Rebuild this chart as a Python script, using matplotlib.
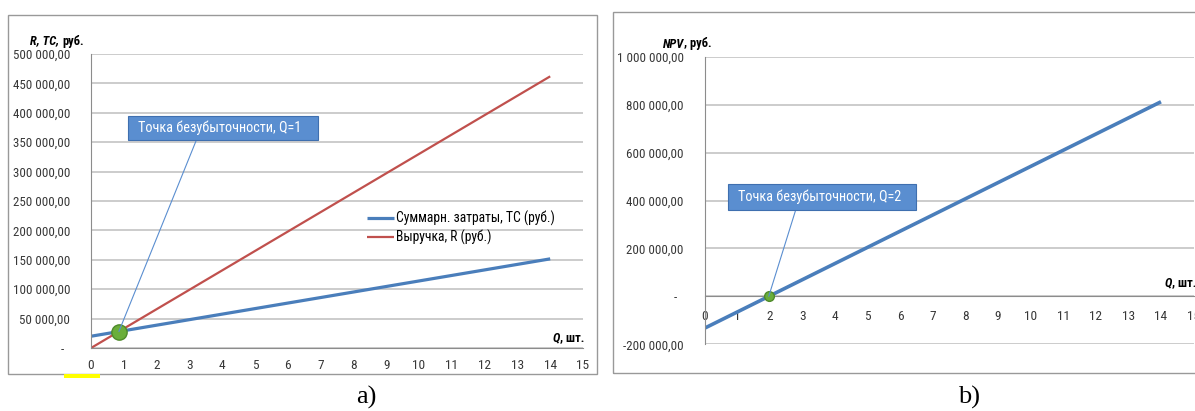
import matplotlib.pyplot as plt
from matplotlib.patches import Rectangle, ConnectionPatch
from matplotlib.ticker import FuncFormatter, MultipleLocator

plt.rcParams['font.family'] = ['Roboto Condensed', 'PT Sans Narrow', 'DejaVu Sans']

W, H = 1195, 411

# Данные
q = list(range(15))
tc = [20000, 29400, 38800, 48200, 57600, 67000, 76400, 85800, 95200,
      104600, 114000, 123400, 132800, 142200, 151600]
r = [0, 33000, 66000, 99000, 132000, 165000, 198000, 231000, 264000,
     297000, 330000, 363000, 396000, 429000, 462000]
npv = [-133000, -65500, 2000, 69500, 137000, 204500, 272000, 339500, 407000,
       474500, 542000, 609500, 677000, 744500, 812000]
be_a = (0.85, 28000)
be_b = (1.97, 0)
x_ticks = list(range(16))

blue = '#4A7EBB'
red = '#C0504D'
grid_c = '#C8C8C8'
axis_c = '#8C8C8C'
box_c = '#5A8ED0'


def rub(v, pos):
    if v == 0:
        return '-  '
    return f'{v:,.2f}'.replace(',', ' ').replace('.', ',')


def px_axes(x0, y0, x1, y1):
    return fig.add_axes([x0 / W, 1 - y1 / H, (x1 - x0) / W, (y1 - y0) / H])


def px(x, y):
    return (x / W, 1 - y / H)


def style(ax, xpad):
    for s in ['top', 'right']:
        ax.spines[s].set_visible(False)
    ax.spines['left'].set_color(axis_c)
    ax.spines['bottom'].set_color(axis_c)
    ax.grid(axis='y', color=grid_c, lw=1.3)
    ax.set_axisbelow(True)
    ax.set_xticks(x_ticks)
    ax.yaxis.set_major_formatter(FuncFormatter(rub))
    ax.tick_params(axis='y', length=0, pad=15, labelsize=9.4, colors='#383838')
    ax.tick_params(axis='x', length=0, pad=xpad, labelsize=9.6, colors='#383838')
    ax.set_xlim(0, 15)


def bold_label(x, y, a, b, size=9):
    t = fig.text(x / W, 1 - y / H, a, fontsize=size, fontweight='bold',
                 fontstyle='italic', va='center', ha='left')
    fig.canvas.draw()
    bb = t.get_window_extent()
    fig.text(bb.x1 / W, 1 - y / H, b, fontsize=size, fontweight='bold',
             va='center', ha='left')


def callout(ax, box, text, point):
    x0, y0, x1, y1 = box
    fig.patches.append(Rectangle(px(x0, y1), (x1 - x0) / W, (y1 - y0) / H,
                                 transform=fig.transFigure, fc=box_c,
                                 ec='#3F6FAF', lw=0.8, zorder=5))
    fig.text((x0 + 10) / W, 1 - (y0 + y1) / 2 / H, text, color='white',
             fontsize=10.3, va='center', ha='left', zorder=6)
    lx = x0 + (x1 - x0) * 0.36
    con = ConnectionPatch(xyA=px(lx, y1), coordsA=fig.transFigure,
                          xyB=point, coordsB=ax.transData,
                          color=box_c, lw=0.8, zorder=4)
    fig.add_artist(con)


fig = plt.figure(figsize=(W / 100, H / 100), dpi=100)

# рамки
fig.patches.append(Rectangle(px(8, 374), (597 - 8) / W, (374 - 15) / H,
                             transform=fig.transFigure, fill=False, ec='#999999', lw=1))
fig.patches.append(Rectangle(px(613, 373), (1205 - 613) / W, (373 - 12) / H,
                             transform=fig.transFigure, fill=False, ec='#999999', lw=1))
fig.patches.append(Rectangle(px(64, 378), 36 / W, 4 / H,
                             transform=fig.transFigure, fc='#FFFF00', ec='none'))

# a)
ax1 = px_axes(91, 54, 583, 348)
style(ax1, 8)
ax1.set_ylim(0, 500000)
ax1.yaxis.set_major_locator(MultipleLocator(50000))
ax1.plot(q, tc, color=blue, lw=2.3, label='Суммарн. затраты, TC (руб.)', solid_capstyle='butt')
ax1.plot(q, r, color=red, lw=1.6, label='Выручка, R (руб.)', solid_capstyle='butt')
ax1.plot(*be_a, 'o', ms=11, color='#6AAE3A', mec='#4E8A2A', zorder=6)
ax1.legend(loc='upper left', bbox_to_anchor=px(367, 211), bbox_transform=fig.transFigure,
           frameon=False, fontsize=9.8, handlelength=2.0, handletextpad=0.15,
           labelspacing=0.25, borderpad=0, borderaxespad=0)

# b)
ax2 = px_axes(704.5, 56.7, 1193.6, 344.3)
style(ax2, 9.5)
ax2.set_ylim(-200000, 1000000)
ax2.yaxis.set_major_locator(MultipleLocator(200000))
ax2.spines['bottom'].set_position(('data', 0))
ax2.plot(q, npv, color=blue, lw=2.6, solid_capstyle='butt')
ax2.plot(*be_b, 'o', ms=7, color='#6AAE3A', mec='#4E8A2A', zorder=6)

callout(ax1, (128, 116, 318, 140), 'Точка безубыточности, Q=1', be_a)
callout(ax2, (728, 184, 916, 210), 'Точка безубыточности, Q=2', be_b)

bold_label(30, 41, 'R, TC, ', 'руб.')
bold_label(663, 44, 'NPV', ', руб.')
bold_label(553, 338, 'Q', ', шт.')
bold_label(1165, 283, 'Q', ', шт.')

fig.text(366 / W, 1 - 397 / H, 'a)', family='Liberation Serif', fontsize=19, ha='center', va='center')
fig.text(969 / W, 1 - 397 / H, 'b)', family='Liberation Serif', fontsize=19, ha='center', va='center')

fig.savefig('out.png', dpi=100)
